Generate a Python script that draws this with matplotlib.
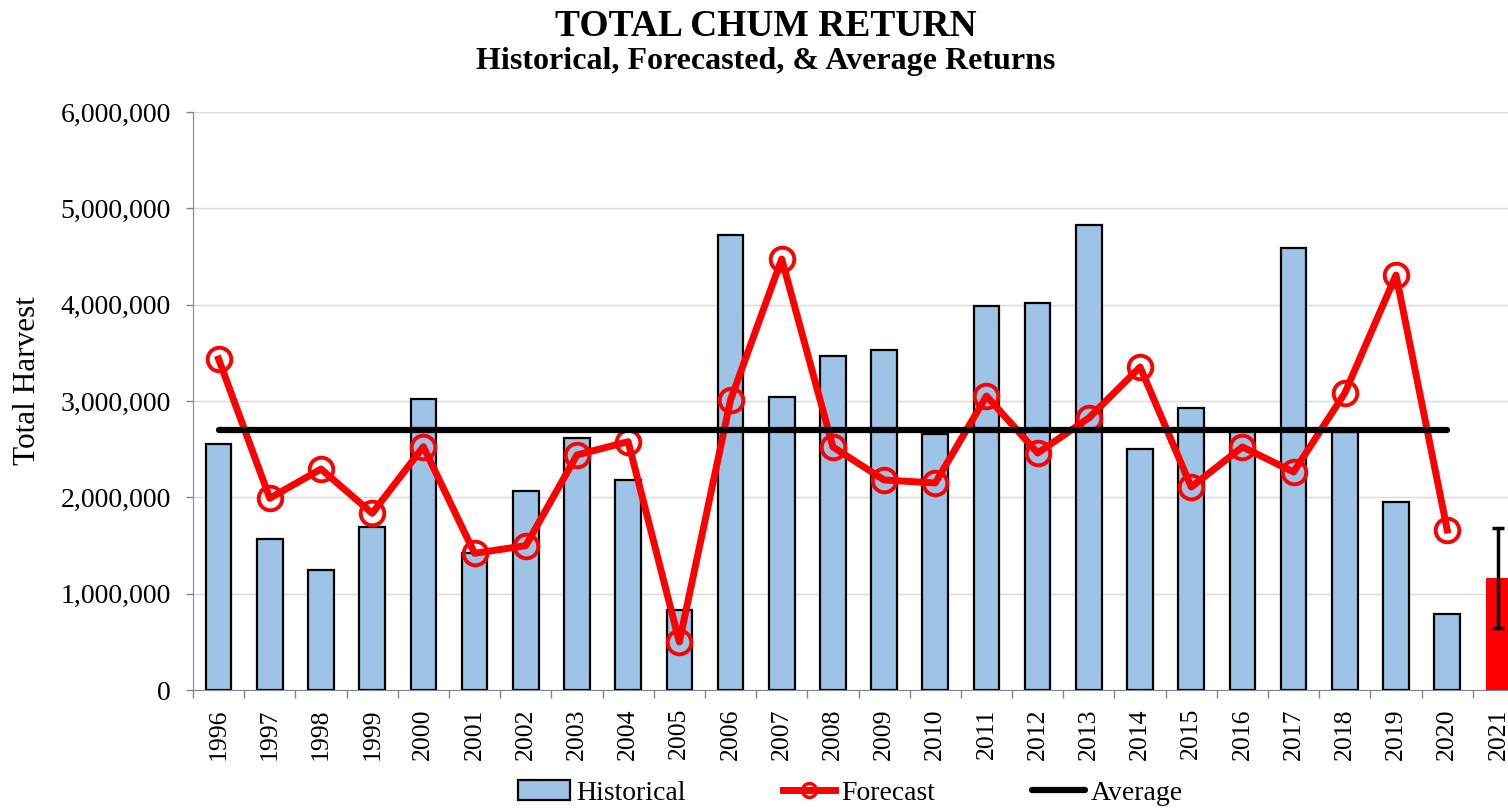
import numpy as np
import matplotlib
matplotlib.use("Agg")
import matplotlib.pyplot as plt
from matplotlib.lines import Line2D

# Data
years = [str(y) for y in range(1996, 2022)]
historical = [2554000, 1568000, 1246000, 1692000, 3021000, 1419000, 2066000, 2616000,
              2180000, 830000, 4723000, 3040000, 3467000, 3530000, 2658000, 3986000,
              4017000, 4827000, 2502000, 2927000, 2690000, 4588000, 2680000, 1955000,
              786000]
forecast = [3436000, 1990000, 2294000, 1834000, 2526000, 1419000, 1498000, 2440000,
            2578000, 498000, 3010000, 4474000, 2523000, 2180000, 2149000, 3052000,
            2460000, 2824000, 3353000, 2107000, 2523000, 2263000, 3083000, 4308000,
            1661000]
average = 2700000
forecast_2021 = 1166000
forecast_2021_low = 647000
forecast_2021_high = 1678000

plt.rcParams['font.family'] = ['Liberation Serif', 'DejaVu Serif']

W, H = 1508, 809
fig = plt.figure(figsize=(W / 100, H / 100), dpi=100)
ax = fig.add_axes([193 / W, 1 - 690 / H, 1331 / W, 578 / H])

x = np.arange(len(years))
xh = x[:len(historical)]

bars = ax.bar(xh, historical, width=0.5, color='#9DC3E6', edgecolor='black',
              linewidth=1.6, label='Historical', zorder=2)
ax.bar(x[-1], forecast_2021, width=0.5, color='#FF0000', linewidth=0, zorder=2)
ax.errorbar(x[-1], forecast_2021,
            yerr=[[forecast_2021 - forecast_2021_low], [forecast_2021_high - forecast_2021]],
            fmt='none', ecolor='black', elinewidth=2.5, capsize=4.5, capthick=2.5, zorder=4)
ax.plot(xh, forecast, color='#FF0000', linewidth=5, marker='o', markersize=17,
        markerfacecolor='none', markeredgecolor='#FF0000', markeredgewidth=2.8,
        zorder=3)
avg_line, = ax.plot([xh[0], xh[-1]], [average, average], color='black', linewidth=4.5,
                    solid_capstyle='round', label='Average', zorder=3)

# smaller marker for the legend entry, as in the original
fc_handle = Line2D([], [], color='#FF0000', linewidth=5, marker='o', markersize=10,
                   markerfacecolor='none', markeredgecolor='#FF0000',
                   markeredgewidth=2.5, label='Forecast')

ax.set_xlim(-0.5, len(years) - 0.5)
ax.set_ylim(0, 6000000)
ax.set_yticks(np.arange(0, 6000001, 1000000))
ax.set_yticklabels([f'{v:,.0f}' for v in np.arange(0, 6000001, 1000000)], fontsize=20)
ax.set_xticks(x)
ax.set_xticklabels(years, rotation=90, fontsize=18.5)
ax.set_xticks(np.arange(-0.5, len(years), 1), minor=True)
ax.tick_params(axis='x', which='major', length=0, pad=13)
ax.tick_params(axis='x', which='minor', length=6, color='#868686', width=1)
ax.tick_params(axis='y', length=5, color='#868686', width=1, pad=11)

ax.grid(axis='y', color='#d9d9d9', linewidth=1, zorder=0)
ax.set_axisbelow(True)
for s in ['top', 'right']:
    ax.spines[s].set_visible(False)
ax.spines['left'].set_color('#868686')
ax.spines['bottom'].set_color('#868686')

fig.text(766 / W, 1 - 36 / H, 'TOTAL CHUM RETURN', ha='center', va='baseline',
         fontsize=27, fontweight='bold')
fig.text(766 / W, 1 - 69 / H, 'Historical, Forecasted, & Average Returns',
         ha='center', va='baseline', fontsize=23, fontweight='bold')
fig.text(28 / W, 1 - 381 / H, 'Total Harvest', rotation=90, ha='center',
         va='center', fontsize=22.5)

fig.legend(handles=[bars, fc_handle, avg_line], loc='center',
           bbox_to_anchor=(850 / W, 1 - 793 / H), ncol=3,
           frameon=False, fontsize=20, handlelength=1.9, handletextpad=0.2,
           columnspacing=3.5, borderaxespad=0)

fig.savefig('out.png', dpi=100)
